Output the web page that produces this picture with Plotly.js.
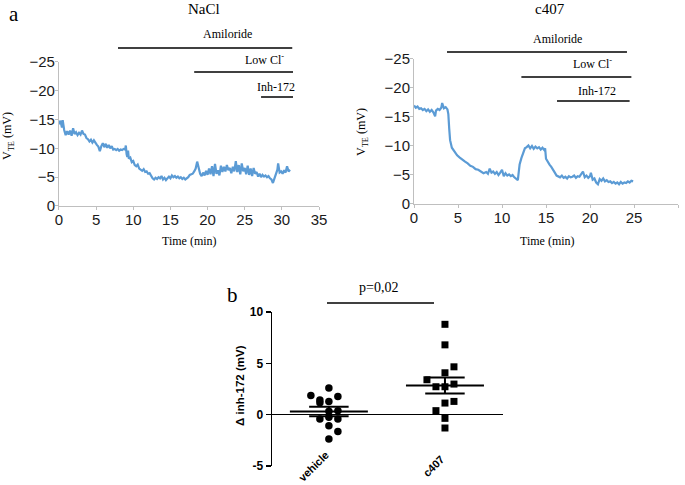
<!DOCTYPE html>
<html>
<head>
<meta charset="utf-8">
<script src="https://cdn.plot.ly/plotly-3.0.1.min.js"></script>
<style>html,body{margin:0;padding:0;background:#fff;}#chart{width:685px;height:485px;}</style>
</head>
<body>
<div id="chart"></div>
<script>
// ---------- Panel a, NaCl trace (time in min, V_TE in mV) ----------
const naclTime = [0.0,0.2,0.4,0.5,0.7,0.9,1.1,1.3,1.5,1.7,1.9,2.1,2.3,2.5,2.7,2.9,3.1,3.3,3.5,3.7,3.9,4.1,4.3,4.5,4.7,4.9,5.1,5.3,5.5,5.7,5.9,6.1,6.3,6.5,6.7,6.9,7.1,7.3,7.5,7.7,7.9,8.1,8.3,8.5,8.7,8.9,9.0,9.1,9.2,9.3,9.4,9.6,9.8,10.0,10.2,10.4,10.6,10.8,11.0,11.2,11.4,11.6,11.8,12.0,12.2,12.4,12.6,12.8,13.0,13.2,13.4,13.6,13.8,14.0,14.2,14.4,14.6,14.8,15.0,15.2,15.4,15.6,15.8,16.0,16.2,16.4,16.6,16.8,17.0,17.2,17.4,17.6,17.8,18.0,18.2,18.4,18.6,18.8,19.0,19.2,19.4,19.6,19.8,20.0,20.2,20.4,20.6,20.8,21.0,21.2,21.4,21.6,21.8,22.0,22.2,22.4,22.6,22.8,23.0,23.2,23.4,23.6,23.8,24.0,24.2,24.4,24.6,24.8,25.0,25.2,25.4,25.6,25.8,26.0,26.2,26.4,26.6,26.8,27.0,27.2,27.4,27.6,27.8,28.0,28.2,28.4,28.6,28.8,29.0,29.2,29.4,29.5,29.7,29.9,30.1,30.3,30.5,30.7,30.9,31.1];
const naclV = [-14.2,-14.8,-13.6,-14.9,-13.2,-12.3,-13.0,-12.4,-13.1,-12.2,-13.5,-12.5,-12.8,-12.3,-12.7,-12.4,-13.1,-12.5,-12.4,-11.8,-11.6,-11.2,-11.5,-11.0,-11.4,-10.9,-10.6,-10.3,-9.5,-10.4,-10.9,-10.2,-10.8,-10.1,-10.6,-10.0,-10.4,-9.8,-9.9,-9.7,-9.9,-9.6,-9.8,-9.7,-9.9,-9.8,-10.5,-9.0,-8.5,-9.6,-8.2,-8.4,-7.6,-7.8,-7.1,-6.9,-7.2,-6.5,-6.3,-6.1,-6.4,-5.9,-6.0,-5.6,-5.7,-5.2,-4.8,-4.6,-4.9,-4.7,-5.0,-4.8,-5.2,-4.6,-4.9,-4.5,-4.8,-5.1,-4.8,-5.3,-5.0,-5.2,-4.9,-5.1,-4.8,-5.0,-4.7,-4.9,-4.6,-4.8,-5.0,-5.4,-5.5,-5.6,-6.0,-6.5,-7.7,-6.8,-5.6,-5.2,-5.8,-5.3,-6.1,-5.4,-6.5,-5.5,-6.9,-5.2,-7.3,-5.6,-6.2,-5.3,-7.0,-5.9,-6.8,-6.0,-7.1,-6.2,-6.6,-5.7,-6.8,-6.0,-7.8,-5.9,-7.1,-5.5,-7.4,-6.0,-6.6,-5.5,-7.0,-5.4,-6.5,-5.2,-6.6,-5.6,-5.9,-5.1,-5.6,-5.0,-5.4,-5.1,-5.3,-5.0,-5.2,-4.8,-4.6,-4.0,-4.8,-5.6,-6.3,-7.4,-5.8,-6.0,-5.6,-6.2,-5.8,-6.9,-6.0,-6.3];

// ---------- Panel a, c407 trace ----------
const c407Time = [0.0,0.2,0.4,0.6,0.8,1.0,1.2,1.4,1.6,1.8,2.0,2.2,2.4,2.5,2.7,2.9,3.1,3.2,3.4,3.6,3.8,3.9,4.0,4.1,4.3,4.5,4.7,4.9,5.2,5.5,5.8,6.1,6.4,6.7,7.0,7.3,7.6,7.9,8.2,8.4,8.6,8.8,9.0,9.2,9.4,9.6,9.8,10.0,10.2,10.4,10.6,10.8,11.0,11.2,11.4,11.6,11.8,11.9,12.0,12.2,12.4,12.6,12.8,13.0,13.2,13.4,13.6,13.8,14.0,14.2,14.4,14.6,14.8,14.9,15.0,15.2,15.4,15.6,15.8,16.0,16.2,16.4,16.6,16.8,17.0,17.2,17.4,17.6,17.8,18.0,18.2,18.4,18.6,18.8,19.0,19.2,19.4,19.6,19.8,20.0,20.1,20.3,20.5,20.7,20.9,21.1,21.3,21.5,21.7,21.9,22.1,22.3,22.5,22.7,22.9,23.1,23.3,23.5,23.7,23.9,24.1,24.3,24.5,24.7,24.9];
const c407V = [-17.0,-16.6,-16.8,-16.4,-16.5,-16.2,-16.4,-16.0,-16.3,-15.9,-16.2,-15.8,-15.1,-16.1,-16.4,-16.2,-16.6,-17.4,-16.5,-16.7,-16.3,-15.5,-13.0,-11.0,-9.7,-9.2,-8.8,-8.4,-8.0,-7.6,-7.3,-7.0,-6.6,-6.4,-6.0,-5.9,-5.6,-5.3,-5.5,-5.2,-6.1,-5.4,-5.6,-5.2,-5.5,-5.0,-5.4,-5.9,-4.8,-5.3,-4.9,-5.1,-4.8,-5.0,-4.6,-4.4,-4.1,-5.5,-6.8,-7.9,-8.8,-9.6,-9.8,-10.1,-9.6,-10.0,-9.5,-9.9,-9.6,-9.8,-9.4,-9.7,-9.3,-9.6,-7.8,-7.2,-6.8,-6.4,-6.0,-5.4,-4.9,-4.8,-4.6,-4.9,-4.5,-4.7,-4.4,-4.8,-4.6,-4.7,-4.9,-4.5,-4.8,-4.7,-5.1,-5.6,-4.6,-4.9,-4.5,-4.8,-5.4,-4.2,-4.4,-3.7,-3.4,-4.3,-4.0,-4.4,-3.9,-4.1,-3.8,-3.9,-3.6,-3.8,-3.5,-3.7,-3.4,-3.8,-3.5,-3.7,-3.6,-3.9,-3.7,-4.0,-3.9];

// ---------- Panel b ----------
const groups = ['vehicle', 'c407'];
const vehicleVals = [2.59,1.87,1.78,1.43,1.29,1.15,0.32,0.39,-0.42,-0.26,-0.42,-1.07,-1.65,-2.36];
const vehicleCol  = [0,-2,1,-1,0,-1,0,1,-1,0,1,0,1,0];
const c407Vals = [8.8,6.8,4.66,4.08,3.4,2.72,2.72,2.98,1.13,1.29,0.39,-0.36,-1.3];
const c407Col  = [0,0,1,0,-2,-1,0,1,0,1,-1,0,0];
const groupMean = [0.31, 2.85];
const groupSem  = [0.47, 0.78];
const pText = 'p=0,02';

const blue = '#5B9BD5';
const serif = 'Liberation Serif, Times New Roman, serif';
const sans = 'Liberation Sans, Arial, sans-serif';
const colStep = 0.0776, meanHalf = 0.336, semHalf = 0.17;

const traces = [
  {x: naclTime, y: naclV, xaxis: 'x', yaxis: 'y', mode: 'lines', line: {color: blue, width: 2.2}, hoverinfo: 'skip'},
  {x: c407Time, y: c407V, xaxis: 'x2', yaxis: 'y2', mode: 'lines', line: {color: blue, width: 2.2}, hoverinfo: 'skip'},
  {x: vehicleCol.map(c => 0 + c * colStep), y: vehicleVals, xaxis: 'x3', yaxis: 'y3', mode: 'markers',
   marker: {symbol: 'circle', size: 7.5, color: '#000'}},
  {x: c407Col.map(c => 1 + c * colStep), y: c407Vals, xaxis: 'x3', yaxis: 'y3', mode: 'markers',
   marker: {symbol: 'square', size: 7, color: '#000'}}
];
groupMean.forEach((m, i) => {
  const s = groupSem[i];
  traces.push({x: [i - meanHalf, i + meanHalf], y: [m, m], xaxis: 'x3', yaxis: 'y3', mode: 'lines', line: {color: '#000', width: 2}});
  traces.push({x: [i - semHalf, i + semHalf, null, i - semHalf, i + semHalf, null, i, i],
               y: [m + s, m + s, null, m - s, m - s, null, m - s, m + s],
               xaxis: 'x3', yaxis: 'y3', mode: 'lines', line: {color: '#000', width: 2}});
});

const greyAxis = {showline: true, linecolor: '#bfbfbf', linewidth: 1, ticks: 'outside', ticklen: 3, tickcolor: '#bfbfbf',
  ticklabelstandoff: -3, showgrid: false, zeroline: false, tickfont: {family: sans, size: 15, color: '#1a1a1a'}};

const layout = {
  width: 685, height: 485, margin: {l: 0, r: 0, t: 0, b: 0},
  paper_bgcolor: '#fff', plot_bgcolor: 'rgba(0,0,0,0)', showlegend: false,
  xaxis: Object.assign({}, greyAxis, {domain: [0.0861, 0.4657], range: [0, 35], dtick: 5, tick0: 0, anchor: 'y'}),
  yaxis: Object.assign({}, greyAxis, {domain: [0.5753, 0.8722], range: [0, -25], dtick: 5, tick0: 0, anchor: 'x'}),
  xaxis2: Object.assign({}, greyAxis, {domain: [0.6044, 0.9898], range: [0, 30], dtick: 5, tick0: 0, anchor: 'y2'}),
  yaxis2: Object.assign({}, greyAxis, {domain: [0.5794, 0.8784], range: [0, -25], dtick: 5, tick0: 0, anchor: 'x2'}),
  xaxis3: {domain: [0.3971, 0.7343], range: [-0.49, 1.5], showline: false, showticklabels: false, ticks: '',
           showgrid: false, zeroline: false, anchor: 'y3'},
  yaxis3: {domain: [0.0392, 0.3567], range: [-5, 10], tickvals: [-5, 0, 5, 10], ticktext: ['-5', '0', '5', '10'],
           showline: true, linecolor: '#000', linewidth: 1.5, ticks: 'outside', ticklen: 5, tickwidth: 1.5, tickcolor: '#000',
           showgrid: false, zeroline: true, zerolinecolor: '#000', zerolinewidth: 1.5, anchor: 'x3',
           tickfont: {family: sans, size: 12, color: '#000', weight: 'bold'}},
  shapes: [
    {type: 'line', xref: 'x', yref: 'paper', x0: 7.94, x1: 31.4, y0: 0.901, y1: 0.901, line: {color: '#000', width: 1.5}},
    {type: 'line', xref: 'x', yref: 'paper', x0: 18.2, x1: 31.5, y0: 0.8515, y1: 0.8515, line: {color: '#000', width: 1.5}},
    {type: 'line', xref: 'x', yref: 'paper', x0: 27.2, x1: 31.5, y0: 0.80, y1: 0.80, line: {color: '#000', width: 1.5}},
    {type: 'line', xref: 'x2', yref: 'paper', x0: 3.75, x1: 24.2, y0: 0.8928, y1: 0.8928, line: {color: '#000', width: 1.5}},
    {type: 'line', xref: 'x2', yref: 'paper', x0: 12.2, x1: 24.7, y0: 0.841, y1: 0.841, line: {color: '#000', width: 1.5}},
    {type: 'line', xref: 'x2', yref: 'paper', x0: 16.25, x1: 24.5, y0: 0.7918, y1: 0.7918, line: {color: '#000', width: 1.5}},
    {type: 'line', xref: 'paper', yref: 'paper', x0: 327/685, x1: 434/685, y0: (485-303)/485, y1: (485-303)/485, line: {color: '#000', width: 1.5}}
  ],
  annotations: [
    {text: 'a', x: 14/685, y: (485-14)/485, font: {family: serif, size: 21, color: '#000'}},
    {text: 'NaCl', x: 204/685, y: (485-9)/485, font: {family: serif, size: 15, color: '#000'}},
    {text: 'c407', x: 550/685, y: (485-9)/485, font: {family: serif, size: 15, color: '#000'}},
    {text: 'Amiloride', xref: 'x', x: 22.7, y: (485-34)/485, font: {family: serif, size: 12, color: '#000'}},
    {text: 'Low Cl<sup>-</sup>', xref: 'x', x: 27.7, y: (485-59)/485, font: {family: serif, size: 12, color: '#000'}},
    {text: 'Inh-172', xref: 'x', x: 29.2, y: (485-87)/485, font: {family: serif, size: 12, color: '#000'}},
    {text: 'Amiloride', xref: 'x2', x: 16.25, y: (485-39)/485, font: {family: serif, size: 12, color: '#000'}},
    {text: 'Low Cl<sup>-</sup>', xref: 'x2', x: 20.3, y: (485-64)/485, font: {family: serif, size: 12, color: '#000'}},
    {text: 'Inh-172', xref: 'x2', x: 20.8, y: (485-91)/485, font: {family: serif, size: 12, color: '#000'}},
    {text: 'V<sub>TE</sub> (mV)', x: 8/685, y: (485-136)/485, textangle: -90, font: {family: serif, size: 12, color: '#000'}},
    {text: 'V<sub>TE</sub> (mV)', x: 362/685, y: (485-132)/485, textangle: -90, font: {family: serif, size: 12, color: '#000'}},
    {text: 'Time (min)', x: 189/685, y: (485-241)/485, font: {family: serif, size: 12, color: '#000'}},
    {text: 'Time (min)', x: 547/685, y: (485-241)/485, font: {family: serif, size: 12, color: '#000'}},
    {text: 'b', x: 232/685, y: (485-295)/485, font: {family: serif, size: 21, color: '#000'}},
    {text: pText, x: 378/685, y: (485-287)/485, font: {family: serif, size: 14, color: '#000'}},
    {text: 'Δ inh-172 (mV)', x: 240/685, y: (485-386)/485, textangle: -90, font: {family: sans, size: 11.5, color: '#000', weight: 'bold'}},
    {text: groups[0], x: 334/685, y: (485-446)/485, xanchor: 'right', yanchor: 'top', textangle: -45, font: {family: sans, size: 11, color: '#000', weight: 'bold'}},
    {text: groups[1], x: 449/685, y: (485-450)/485, xanchor: 'right', yanchor: 'top', textangle: -45, font: {family: sans, size: 11, color: '#000', weight: 'bold'}}
  ].map(a => Object.assign({xref: 'paper', yref: 'paper', xanchor: 'center', yanchor: 'middle', showarrow: false}, a))
};

Plotly.newPlot('chart', traces, layout, {staticPlot: true, displayModeBar: false});
</script>
</body>
</html>
